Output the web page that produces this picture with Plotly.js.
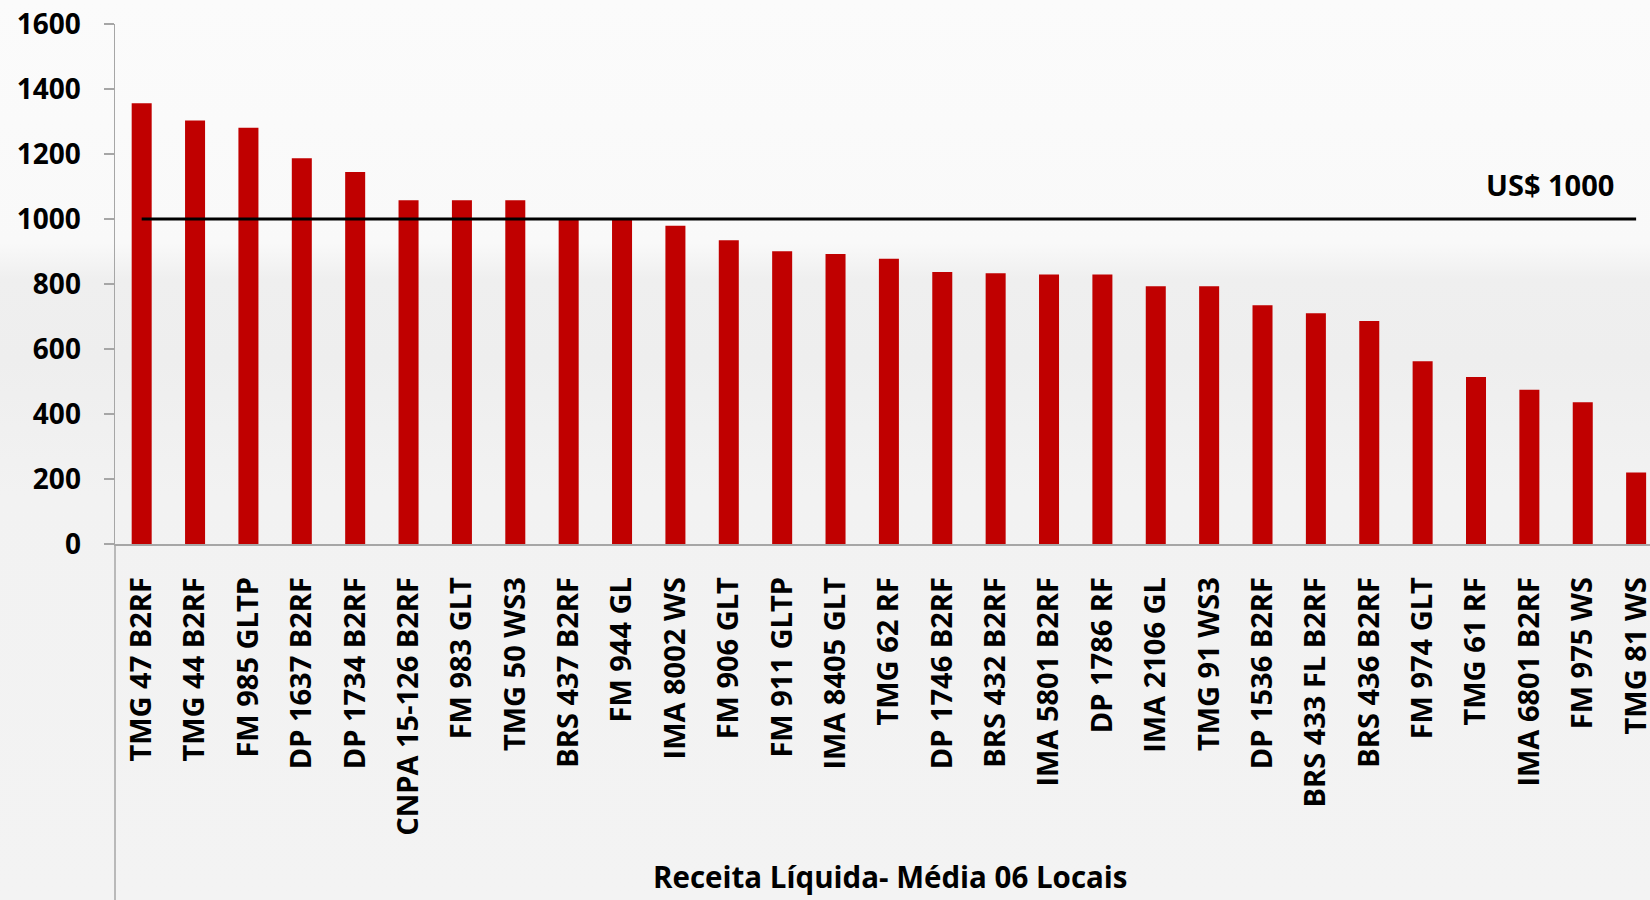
<!DOCTYPE html>
<html>
<head>
<meta charset="utf-8">
<script src="https://cdn.plot.ly/plotly-3.0.1.min.js"></script>
<style>
  html, body { margin: 0; padding: 0; }
  body {
    width: 1650px; height: 900px; overflow: hidden;
    background: linear-gradient(to bottom, #fbfbfb 0%, #f9f9f9 27%, #efefef 31%, #eeeeee 40%, #f2f2f2 55%, #f3f3f3 100%);
  }
  #chart { width: 1650px; height: 900px; }
</style>
</head>
<body>
<div id="chart"></div>
<script>
const categories = [
  "TMG 47 B2RF", "TMG 44 B2RF", "FM 985 GLTP", "DP 1637 B2RF", "DP 1734 B2RF",
  "CNPA 15-126 B2RF", "FM 983 GLT", "TMG 50 WS3", "BRS 437 B2RF", "FM 944 GL",
  "IMA 8002 WS", "FM 906 GLT", "FM 911 GLTP", "IMA 8405 GLT", "TMG 62 RF",
  "DP 1746 B2RF", "BRS 432 B2RF", "IMA 5801 B2RF", "DP 1786 RF", "IMA 2106 GL",
  "TMG 91 WS3", "DP 1536 B2RF", "BRS 433 FL B2RF", "BRS 436 B2RF", "FM 974 GLT",
  "TMG 61 RF", "IMA 6801 B2RF", "FM 975 WS", "TMG 81 WS"
];
const receitaLiquida = [
  1356, 1303, 1281, 1187, 1145,
  1058, 1058, 1058, 1000, 998,
  979, 935, 901, 892, 878,
  837, 833, 829, 829, 793,
  793, 735, 710, 686, 562,
  514, 475, 436, 220
];
const referenceValue = 1000;
const referenceLine = categories.map(() => referenceValue);
const yTicks = [0, 200, 400, 600, 800, 1000, 1200, 1400, 1600];
const titleText = "Receita Líquida- Média 06 Locais";
const refLabel = "US$ 1000";

const axisGray = "#a6a6a6";
const font = "Open Sans, Lato, DejaVu Sans, sans-serif";

const traces = [
  {
    type: "bar",
    x: categories,
    y: receitaLiquida,
    marker: { color: "#c00000" },
    hoverinfo: "x+y"
  },
  {
    type: "scatter",
    mode: "lines",
    x: categories,
    y: referenceLine,
    line: { color: "#000000", width: 3 },
    hoverinfo: "skip"
  }
];

const layout = {
  width: 1650,
  height: 900,
  margin: { l: 115, r: 0, t: 24, b: 356 },
  paper_bgcolor: "rgba(0,0,0,0)",
  plot_bgcolor: "rgba(0,0,0,0)",
  showlegend: false,
  bargap: 0.625,
  xaxis: {
    type: "category",
    range: [-0.5, 28.26],
    tickangle: -90,
    tickfont: { family: font, size: 29, color: "#000000", weight: "bold" },
    showgrid: false,
    zeroline: false,
    showline: true,
    linecolor: axisGray,
    linewidth: 1.5,
    ticks: "",
    ticklabelstandoff: 20,
    fixedrange: true
  },
  yaxis: {
    range: [0, 1600],
    tickvals: yTicks,
    ticktext: yTicks.map(String),
    tickfont: { family: font, size: 28, color: "#000000", weight: "bold" },
    showgrid: false,
    zeroline: false,
    showline: true,
    linecolor: axisGray,
    linewidth: 1.5,
    ticks: "outside",
    ticklen: 10,
    tickcolor: axisGray,
    tickwidth: 1.5,
    ticklabelstandoff: 17,
    fixedrange: true
  },
  shapes: [
    {
      type: "line", xref: "paper", yref: "paper",
      x0: 0, x1: 0, y0: -0.7, y1: 0,
      line: { color: axisGray, width: 1.5 }
    }
  ],
  annotations: [
    {
      text: refLabel, xref: "paper", yref: "y",
      x: 0.935, y: 1105, xanchor: "center", yanchor: "middle",
      showarrow: false,
      font: { family: font, size: 29, color: "#000000", weight: "bold" }
    },
    {
      text: titleText, xref: "paper", yref: "paper",
      x: (890 - 115) / 1535, y: -0.64, xanchor: "center", yanchor: "middle",
      showarrow: false,
      font: { family: font, size: 29.5, color: "#000000", weight: "bold" }
    }
  ]
};

Plotly.newPlot("chart", traces, layout, { displayModeBar: false, staticPlot: true });
</script>
</body>
</html>
